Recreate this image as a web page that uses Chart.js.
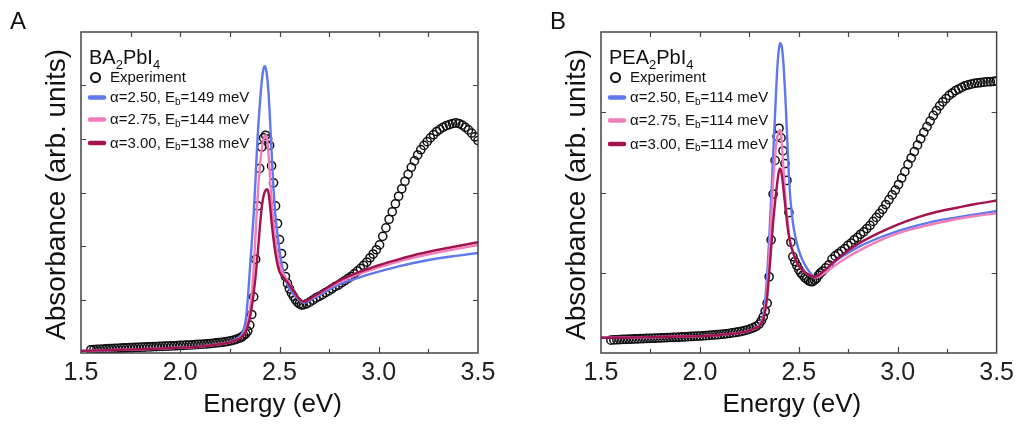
<!DOCTYPE html>
<html><head><meta charset="utf-8">
<script src="https://cdn.jsdelivr.net/npm/chart.js@4.4.1/dist/chart.umd.min.js"></script>
<style>
html,body{margin:0;padding:0;background:#fff;width:1019px;height:426px;overflow:hidden}
canvas{position:absolute;top:0}
#cA{left:0}
#cB{left:510px}
</style></head><body>
<canvas id="cA" width="509" height="426"></canvas>
<canvas id="cB" width="509" height="426"></canvas>
<script>
// ---------- data ----------
const xTickValues = [1.5, 2.0, 2.5, 3.0, 3.5];
const xMinorValues = [1.75, 2.25, 2.75, 3.25];
const xTitle = 'Energy (eV)';
const yTitle = 'Absorbance (arb. units)';

const expEnergy = [
  1.55,1.565,1.58,1.595,1.61,1.625,1.64,1.655,1.67,1.685,1.70,1.715,1.73,1.745,1.76,1.775,1.79,1.805,1.82,1.835,
  1.85,1.865,1.88,1.895,1.91,1.925,1.94,1.955,1.97,1.985,2.00,2.015,2.03,2.045,2.06,2.075,2.09,2.105,2.12,2.135,
  2.15,2.165,2.18,2.195,2.21,2.225,2.24,2.255,2.27,2.285,
  2.30,2.31,2.32,2.33,2.34,2.35,2.36,2.37,2.38,2.39,2.40,2.41,2.42,2.43,2.44,2.45,2.46,2.47,2.48,2.49,
  2.50,2.51,2.52,2.53,2.54,2.55,2.56,2.57,2.58,2.59,2.60,2.61,
  2.620,2.636,2.652,2.668,2.684,2.700,2.716,2.732,2.748,2.764,2.780,2.796,2.812,2.828,2.844,2.860,2.876,2.892,
  2.908,2.924,2.940,2.956,2.972,2.988,3.004,3.020,3.036,3.052,3.068,3.084,3.100,3.116,3.132,3.148,3.164,3.180,
  3.196,3.212,3.228,3.244,3.260,3.276,3.292,3.308,3.324,3.340,3.356,3.372,3.388,3.404,3.420,3.436,3.452,3.468,
  3.484,3.500
];
const expAbsA = [
  0.060,0.064,0.067,0.070,0.074,0.077,0.080,0.083,0.086,0.089,0.092,0.094,0.096,0.099,0.101,0.104,0.106,0.109,0.111,0.114,
  0.116,0.118,0.121,0.123,0.125,0.128,0.130,0.133,0.135,0.138,0.141,0.144,0.147,0.150,0.153,0.157,0.160,0.164,0.168,0.172,
  0.177,0.182,0.188,0.194,0.201,0.209,0.218,0.229,0.243,0.260,
  0.28,0.30,0.33,0.36,0.41,0.52,0.72,1.05,1.75,2.75,3.45,3.85,4.02,4.07,4.00,3.88,3.50,3.18,2.75,2.42,
  2.12,1.86,1.62,1.43,1.30,1.20,1.12,1.06,1.00,0.95,0.92,0.90,
  0.90,0.92,0.95,0.99,1.03,1.06,1.09,1.13,1.16,1.20,1.24,1.27,1.31,1.35,1.39,1.43,1.48,1.53,
  1.58,1.64,1.70,1.78,1.85,1.93,2.02,2.18,2.34,2.50,2.64,2.79,2.93,3.07,3.21,3.34,3.47,3.59,
  3.70,3.80,3.88,3.95,4.02,4.08,4.14,4.18,4.22,4.25,4.27,4.29,4.30,4.29,4.26,4.22,4.17,4.11,
  4.04,3.97
];
const expAbsB = [
  0.160,0.163,0.165,0.167,0.169,0.171,0.172,0.174,0.175,0.177,0.178,0.180,0.181,0.183,0.184,0.186,0.187,0.189,0.190,0.192,
  0.193,0.195,0.196,0.198,0.200,0.202,0.204,0.206,0.208,0.210,0.212,0.214,0.216,0.219,0.222,0.225,0.228,0.232,0.236,0.240,
  0.245,0.250,0.256,0.262,0.270,0.278,0.288,0.300,0.315,0.333,
  0.36,0.40,0.45,0.52,0.62,0.95,1.41,1.98,2.40,2.70,2.80,2.68,2.52,2.36,2.15,1.75,1.38,1.20,1.14,1.09,
  1.04,1.00,0.97,0.94,0.92,0.90,0.89,0.89,0.91,0.93,0.97,1.00,
  1.02,1.06,1.10,1.17,1.21,1.24,1.27,1.30,1.34,1.37,1.41,1.44,1.48,1.51,1.55,1.59,1.64,1.69,
  1.74,1.79,1.85,1.91,1.97,2.03,2.10,2.18,2.26,2.35,2.43,2.51,2.59,2.67,2.75,2.82,2.89,2.96,
  3.02,3.08,3.13,3.17,3.21,3.24,3.27,3.29,3.31,3.33,3.34,3.35,3.36,3.365,3.37,3.375,3.38,3.38,
  3.385,3.39
];

const fitEnergy = [
  1.50,1.60,1.70,1.80,1.90,2.00,2.10,2.20,2.25,2.28,
  2.30,2.31,2.32,2.33,2.34,2.35,2.36,2.37,2.38,
  2.385,2.39,2.395,2.40,2.405,2.41,2.415,2.42,2.425,2.43,2.435,2.44,2.445,2.45,2.455,2.46,
  2.47,2.48,2.49,2.50,
  2.52,2.54,2.56,2.58,2.60,2.62,2.64,2.66,
  2.70,2.75,2.80,
  2.90,3.00,3.10,3.20,3.30,3.40,3.50
];
const fitA_a250 = [
  0.04,0.05,0.06,0.07,0.085,0.10,0.12,0.17,0.21,0.26,
  0.31,0.36,0.45,0.62,1.00,1.52,2.05,2.60,3.30,
  3.70,4.05,4.35,4.60,4.85,5.05,5.22,5.32,5.36,5.33,5.24,5.08,4.85,4.52,4.15,3.78,
  3.05,2.55,2.22,1.92,
  1.50,1.28,1.15,1.06,0.99,0.94,0.95,1.00,
  1.08,1.18,1.28,
  1.41,1.52,1.62,1.70,1.77,1.82,1.87
];
const fitA_a275 = [
  0.04,0.05,0.06,0.07,0.085,0.10,0.12,0.165,0.20,0.24,
  0.28,0.31,0.36,0.44,0.57,0.78,1.10,1.60,2.25,
  2.60,2.92,3.20,3.45,3.64,3.80,3.92,4.00,4.05,4.07,4.05,3.92,3.70,3.42,3.10,2.85,
  2.42,2.10,1.85,1.66,
  1.47,1.36,1.23,1.11,1.01,0.96,0.98,1.02,
  1.11,1.22,1.32,
  1.48,1.60,1.71,1.80,1.88,1.95,2.02
];
const fitA_a300 = [
  0.04,0.05,0.06,0.07,0.085,0.10,0.12,0.165,0.20,0.24,
  0.27,0.30,0.34,0.40,0.50,0.64,0.85,1.12,1.45,
  1.65,1.85,2.08,2.30,2.52,2.70,2.84,2.94,3.00,3.04,3.06,3.05,2.98,2.84,2.65,2.45,
  2.12,1.85,1.65,1.52,
  1.41,1.32,1.22,1.11,1.01,0.96,0.98,1.03,
  1.12,1.24,1.35,
  1.51,1.64,1.75,1.85,1.93,2.00,2.07
];
const fitB_a250 = [
  0.19,0.19,0.195,0.20,0.205,0.21,0.225,0.25,0.28,0.31,
  0.35,0.40,0.48,0.66,0.98,1.40,1.92,2.45,2.98,
  3.25,3.50,3.68,3.80,3.86,3.85,3.80,3.68,3.50,3.28,3.03,2.75,2.45,2.20,2.00,1.85,
  1.63,1.48,1.37,1.28,
  1.15,1.06,0.99,0.95,0.97,1.00,1.04,1.09,
  1.17,1.25,1.32,
  1.43,1.52,1.59,1.65,1.69,1.73,1.77
];
const fitB_a275 = [
  0.19,0.19,0.195,0.20,0.205,0.21,0.225,0.25,0.28,0.31,
  0.34,0.38,0.44,0.56,0.80,1.18,1.65,2.12,2.45,
  2.58,2.67,2.73,2.77,2.78,2.74,2.58,2.38,2.20,2.02,1.86,1.72,1.60,1.49,1.41,1.35,
  1.26,1.19,1.13,1.09,
  1.03,0.99,0.96,0.94,0.95,0.98,1.01,1.05,
  1.12,1.20,1.27,
  1.39,1.49,1.56,1.62,1.67,1.71,1.74
];
const fitB_a300 = [
  0.19,0.19,0.195,0.20,0.205,0.21,0.225,0.25,0.28,0.31,
  0.33,0.37,0.42,0.52,0.70,0.98,1.30,1.62,1.88,
  2.00,2.10,2.20,2.27,2.30,2.28,2.20,2.10,1.98,1.86,1.75,1.64,1.54,1.46,1.39,1.34,
  1.26,1.19,1.13,1.09,
  1.03,0.99,0.96,0.95,0.97,1.01,1.05,1.10,
  1.18,1.28,1.36,
  1.49,1.60,1.69,1.76,1.81,1.86,1.90
];

const panelLetters = ['A', 'B'];
const titleA = ['BA', '2', 'PbI', '4'];
const titleB = ['PEA', '2', 'PbI', '4'];
const expLabel = 'Experiment';
const labelsA = [['α=2.50, E', 'b', '=149 meV'], ['α=2.75, E', 'b', '=144 meV'], ['α=3.00, E', 'b', '=138 meV']];
const labelsB = [['α=2.50, E', 'b', '=114 meV'], ['α=2.75, E', 'b', '=114 meV'], ['α=3.00, E', 'b', '=114 meV']];
const yTicksLeftA = [1, 2, 3, 4, 5];
const yTicksRightA = [1, 3, 5];
const yTicksB = [1, 2, 3];

// ---------- styling ----------
const FONT = '"Liberation Sans", Arial, Helvetica, sans-serif';
const COL_BLUE = '#5f78eb';
const COL_PINK = '#f27dbb';
const COL_RED = '#a3144f';
const COL_AXIS = '#444';

function pts(xs, ys) { return xs.map((x, i) => ({ x: x, y: ys[i] })); }

function drawParts(ctx, parts, x, y, size, subSize, subDy) {
  let cx = x;
  parts.forEach((p, i) => {
    const sub = i % 2 === 1;
    ctx.font = (sub ? subSize : size) + 'px ' + FONT;
    ctx.fillText(p, cx, y + (sub ? subDy : 0));
    cx += ctx.measureText(p).width;
  });
}

function decorPlugin(cfg) {
  return {
    id: 'decor' + cfg.letter,
    afterDatasetsDraw(chart) {
      const ctx = chart.ctx;
      const a = chart.chartArea;
      const xs = chart.scales.x, ys = chart.scales.y;
      ctx.save();
      // frame
      ctx.strokeStyle = COL_AXIS;
      ctx.lineWidth = 1.5;
      ctx.strokeRect(a.left, a.top, a.right - a.left, a.bottom - a.top);
      ctx.lineWidth = 1.2;
      ctx.beginPath();
      xTickValues.concat(xMinorValues).forEach(v => {
        const px = Math.round(xs.getPixelForValue(v)) + 0.5;
        if (px <= a.left + 1 || px >= a.right - 1) return;
        const major = xTickValues.includes(v);
        ctx.moveTo(px, a.bottom); ctx.lineTo(px, a.bottom - (major ? 6 : 4));
        ctx.moveTo(px, a.top); ctx.lineTo(px, a.top + 5);
      });
      cfg.yLeft.forEach(v => {
        const py = Math.round(ys.getPixelForValue(v)) + 0.5;
        ctx.moveTo(a.left, py); ctx.lineTo(a.left + 5, py);
      });
      cfg.yRight.forEach(v => {
        const py = Math.round(ys.getPixelForValue(v)) + 0.5;
        ctx.moveTo(a.right, py); ctx.lineTo(a.right - 5, py);
      });
      ctx.stroke();

      ctx.fillStyle = '#111';
      // panel letter
      ctx.textBaseline = 'alphabetic';
      ctx.textAlign = 'left';
      ctx.font = '24px ' + FONT;
      ctx.fillText(cfg.letter, cfg.letterX, 29);
      // x title
      ctx.textAlign = 'center';
      ctx.textBaseline = 'middle';
      ctx.font = '26px ' + FONT;
      ctx.fillText(xTitle, (a.left + a.right) / 2 - 7, 405);
      // y title
      ctx.save();
      ctx.translate(a.left - 24, (a.top + a.bottom) / 2 + 2);
      ctx.rotate(-Math.PI / 2);
      ctx.font = '28px ' + FONT;
      ctx.fillText(yTitle, 0, 0);
      ctx.restore();

      // legend title
      ctx.textAlign = 'left';
      ctx.textBaseline = 'alphabetic';
      const lx = a.left + cfg.legDx;
      drawParts(ctx, cfg.title, lx, 64, 20, 13, 5);
      // experiment entry
      ctx.textBaseline = 'middle';
      ctx.beginPath();
      ctx.strokeStyle = '#111';
      ctx.lineWidth = 2;
      ctx.arc(lx + 6.5, 77.5, 4.5, 0, Math.PI * 2);
      ctx.stroke();
      ctx.font = '15px ' + FONT;
      ctx.fillText(expLabel, lx + 21, 78);
      // fit entries
      const cols = [COL_BLUE, COL_PINK, COL_RED];
      cfg.labels.forEach((parts, i) => {
        const y = cfg.legY[i];
        ctx.beginPath();
        ctx.strokeStyle = cols[i];
        ctx.lineWidth = 4.5;
        ctx.lineCap = 'round';
        ctx.moveTo(lx + 1, y); ctx.lineTo(lx + 15, y);
        ctx.stroke();
        drawParts(ctx, parts, lx + 21, y + 0.5, 15, 10, 4);
      });
      ctx.restore();
    }
  };
}

function makeChart(id, expAbs, fits, yMax, pad, cfg) {
  const base = { showLine: true, pointRadius: 0, borderWidth: 2.4, cubicInterpolationMode: 'monotone', fill: false };
  return new Chart(document.getElementById(id), {
    type: 'line',
    data: {
      datasets: [
        { label: expLabel, data: pts(expEnergy, expAbs), showLine: false, pointStyle: 'circle',
          pointRadius: 4.1, pointBorderWidth: 1.5, pointBorderColor: '#111', pointBackgroundColor: 'rgba(0,0,0,0)',
          borderColor: '#111', order: 4 },
        Object.assign({ label: 'a250', data: pts(fitEnergy, fits[0]), borderColor: COL_BLUE, order: 3 }, base),
        Object.assign({ label: 'a275', data: pts(fitEnergy, fits[1]), borderColor: COL_PINK, order: 2 }, base),
        Object.assign({ label: 'a300', data: pts(fitEnergy, fits[2]), borderColor: COL_RED, order: 1 }, base)
      ]
    },
    options: {
      responsive: false, animation: false, devicePixelRatio: 1,
      layout: { padding: { left: pad.left, right: pad.right, top: 32, bottom: 0 } },
      plugins: { legend: { display: false }, tooltip: { enabled: false } },
      scales: {
        x: {
          type: 'linear', min: 1.5, max: 3.5,
          afterBuildTicks: s => { s.ticks = xTickValues.map(v => ({ value: v })); },
          afterFit: s => { s.height = 73; },
          ticks: { font: { family: FONT, size: 25 }, color: '#222', padding: 5, maxRotation: 0, autoSkip: false,
                   callback: v => Number(v).toFixed(1) },
          grid: { display: false, drawTicks: false },
          border: { display: false }
        },
        y: { type: 'linear', min: 0, max: yMax, display: false }
      }
    },
    plugins: [decorPlugin(cfg)]
  });
}

makeChart('cA', expAbsA, [fitA_a250, fitA_a275, fitA_a300], 6, { left: 81, right: 31 },
  { letter: panelLetters[0], letterX: 10, title: titleA, labels: labelsA, legDx: 8, legY: [97.5, 119.5, 143],
    yLeft: yTicksLeftA, yRight: yTicksRightA });
makeChart('cB', expAbsB, [fitB_a250, fitB_a275, fitB_a300], 4, { left: 91, right: 21 },
  { letter: panelLetters[1], letterX: 40, title: titleB, labels: labelsB, legDx: 8, legY: [97.5, 120.5, 144],
    yLeft: yTicksB, yRight: yTicksB });
</script>
</body></html>
